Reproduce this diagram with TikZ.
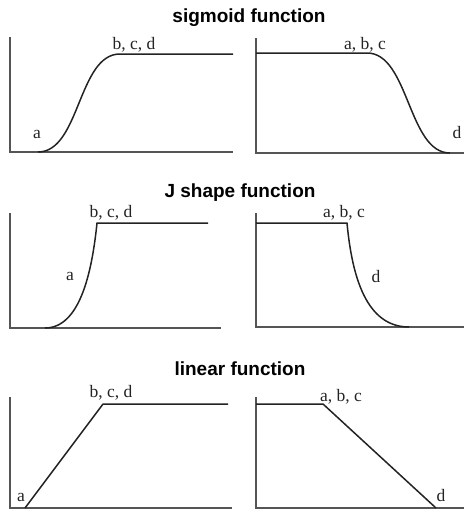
\documentclass[tikz,border=0pt]{standalone}
\usepackage{fontspec}
\setmainfont{Liberation Serif}
\newfontfamily\headfont{Liberation Sans}
\usepackage{tikz}
\definecolor{axisgray}{RGB}{85,85,85}
\definecolor{curvedark}{RGB}{35,35,35}
\tikzset{
  axis/.style={line width=1.6pt,color=axisgray},
  curve/.style={line width=1.5pt,color=curvedark,line join=round},
  heading/.style={font=\headfont\bfseries\fontsize{19}{22}\selectfont,anchor=base,inner sep=0pt},
  lbl/.style={font=\fontsize{17.5}{20}\selectfont,anchor=base,inner sep=0pt,color=curvedark}
}

\begin{document}
\begin{tikzpicture}[x=1pt,y=-1pt]
  \useasboundingbox (0,0) rectangle (464,512);

  % sigmoid function
  \node[heading] (tsig) at (249,22) {sigmoid function};
  \draw[axis] (10,37) -- (10,152) -- (233,152);
  \draw[curve] (38,152) .. controls (80,152) and (78,54) .. (120,54) -- (233,54);
  \node[lbl] (sigla) at (37,138) {a};
  \node[lbl] (siglb) at (134,49) {b, c, d};
  \draw[axis] (256,38) -- (256,153) -- (464,153);
  \draw[curve] (256,53) -- (367,53) .. controls (409,53) and (408,153) .. (450,153);
  \node[lbl] (sigra) at (365,49) {a, b, c};
  \node[lbl] (sigrd) at (457,138) {d};

  % J shape function
  \node[heading] (tjs) at (240,197) {J shape function};
  \draw[axis] (10,213) -- (10,328) -- (221,328);
  \draw[curve] (45,328) .. controls (80,328) and (92,272) .. (97,223) -- (208,223);
  \node[lbl] (jsla) at (70,280) {a};
  \node[lbl] (jslb) at (111,217) {b, c, d};
  \draw[axis] (256,213) -- (256,327) -- (464,327);
  \draw[curve] (256,223) -- (347,223) .. controls (352,276) and (366,327) .. (409,327);
  \node[lbl] (jsra) at (344,217) {a, b, c};
  \node[lbl] (jsrd) at (376,282) {d};

  % linear function
  \node[heading] (tlin) at (240,375) {linear function};
  \draw[axis] (10,397) -- (10,508) -- (232,508);
  \draw[curve] (25,508) -- (103,404) -- (228,404);
  \node[lbl] (linla) at (21,501) {a};
  \node[lbl] (linlb) at (111,397) {b, c, d};
  \draw[axis] (256,397) -- (256,508) -- (464,508);
  \draw[curve] (256,404) -- (323,404) -- (436,508);
  \node[lbl] (linra) at (341,401) {a, b, c};
  \node[lbl] (linrd) at (441,501) {d};
\end{tikzpicture}
\end{document}
